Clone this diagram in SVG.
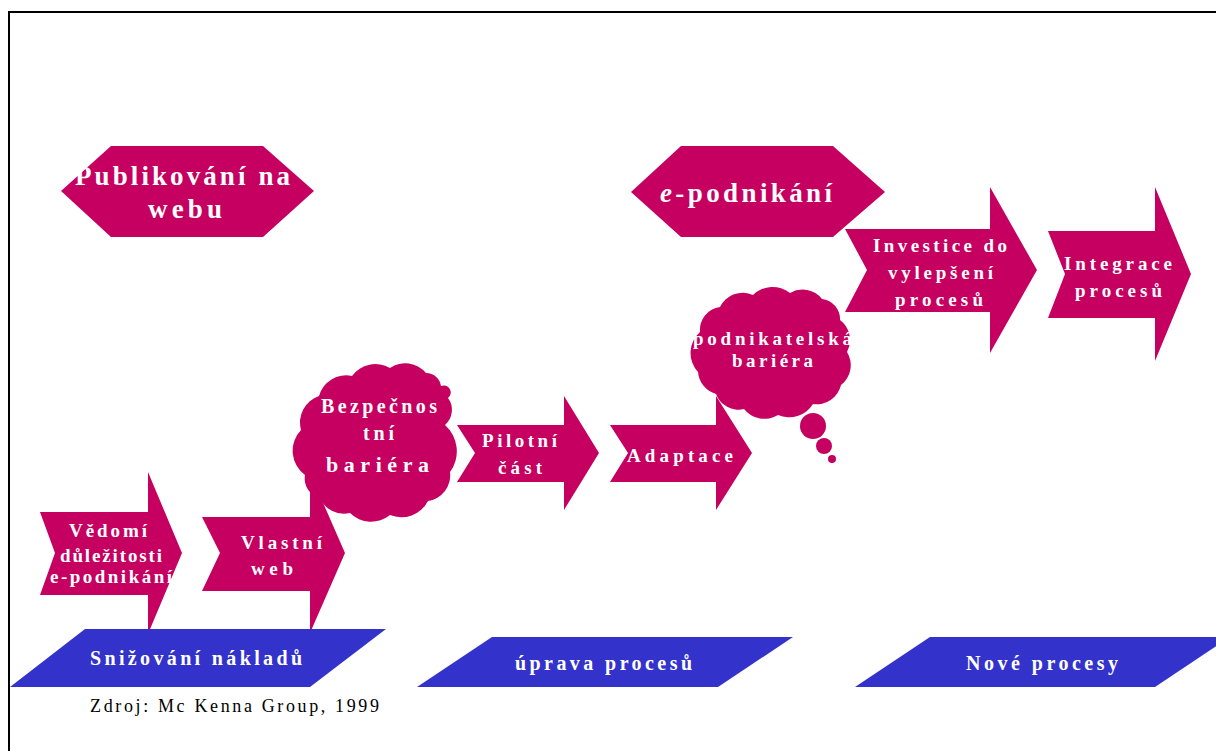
<svg xmlns="http://www.w3.org/2000/svg" width="1216" height="751" viewBox="0 0 1216 751">
<style>
.m{fill:#C50061}
.b{fill:#3333CC}
.t{fill:#ffffff;font-family:"Liberation Serif","Times New Roman",serif;font-weight:bold;text-anchor:middle}
.a{font-size:19px}
.h{font-size:27px}
.c{font-size:20px}
.p{font-size:20px}
.z{fill:#000000;font-family:"Liberation Serif","Times New Roman",serif;font-size:18px}
</style>
<rect x="0" y="0" width="1216" height="751" fill="#ffffff"/>
<g id="frame">
<path d="M9 751 V12 H1216" fill="none" stroke="#000" stroke-width="2"/>
</g>
<g id="connectors"></g>
<g id="hex-publikovani">
<polygon class="m" points="61,191 111,146 263,146 314,191 263,237 111,237"/>
<text class="t h" x="182.5" y="185" textLength="215">Publikování na</text>
<text class="t h" x="185" y="218" textLength="74">webu</text>
</g>
<g id="hex-epodnikani">
<polygon class="m" points="631,192 681,146 833,146 885,192 833,237 681,237"/>
<text class="t h" x="746" y="202" textLength="172"><tspan font-style="italic">e</tspan>-podnikání</text>
</g>
<g id="arrow-vedomi">
<polygon class="m" points="40,512 148,512 148,472 182,553 148,634 148,595 40,595 55,553"/>
<text class="t a" x="108" y="537" textLength="78">Vědomí</text>
<text class="t a" x="111" y="562" textLength="102">důležitosti</text>
<text class="t a" x="111" y="583" textLength="122">e-podnikání</text>
</g>
<g id="arrow-vlastni">
<polygon class="m" points="202,517 310,517 310,473 345,553 310,633 310,591 202,591 220,553"/>
<text class="t a" x="281.5" y="549" textLength="81">Vlastní</text>
<text class="t a" x="272" y="575" textLength="42">web</text>
</g>
<g id="arrow-pilotni">
<polygon class="m" points="457,425 564,425 564,396 599,453 564,510 564,482 457,482 475,453"/>
<text class="t a" x="519.5" y="447" textLength="75">Pilotní</text>
<text class="t a" x="520" y="474" textLength="44">část</text>
</g>
<g id="arrow-adaptace">
<polygon class="m" points="610,425 716,425 716,396 752,453 716,510 716,482 610,482 628,453"/>
<text class="t a" x="680" y="462" textLength="106">Adaptace</text>
</g>
<g id="arrow-investice">
<polygon class="m" points="845,229 990,229 990,187 1037,270 990,353 990,312 845,312 867,270"/>
<text class="t a" x="940" y="252" textLength="134">Investice do</text>
<text class="t a" x="940.5" y="279" textLength="105">vylepšení</text>
<text class="t a" x="939" y="306" textLength="88">procesů</text>
</g>
<g id="arrow-integrace">
<polygon class="m" points="1048,231 1155,231 1155,187 1191,274 1155,361 1155,318 1048,318 1065,274"/>
<text class="t a" x="1118" y="270" textLength="108">Integrace</text>
<text class="t a" x="1118.5" y="297" textLength="87">procesů</text>
</g>
<g id="cloud-bezpecnost">
<path class="m" d="M305,475 A30,30 0 0 1 301,430 A28,28 0 0 1 319,396 A28,28 0 0 1 352,376 A29,29 0 0 1 390,368 A27,27 0 0 1 426,373 A15,15 0 0 1 441,386 A7,7 0 0 1 448,398 A20,20 0 0 1 445,425 A35,35 0 0 1 450,472 A26,26 0 0 1 428,501 A30,30 0 0 1 390,515 A30,30 0 0 1 350,513 A26,26 0 0 1 320,498 A20,20 0 0 1 305,475 Z"/>
<text class="t c" x="379" y="413" textLength="116">Bezpečnos</text>
<text class="t c" x="378.5" y="440" textLength="31">tní</text>
<text class="t" style="font-size:22px" x="377.5" y="472" textLength="103">bariéra</text>
</g>
<g id="cloud-podnikatelska">
<path class="m" d="M698,372 A28,28 0 0 1 700,332 A23,23 0 0 1 720,307 A25,25 0 0 1 753,295 A28,28 0 0 1 790,293 A25,25 0 0 1 822,299 A20,20 0 0 1 840,320 A25,25 0 0 1 847,352 A25,25 0 0 1 841,385 A25,25 0 0 1 813,404 A28,28 0 0 1 778,415 A26,26 0 0 1 744,409 A24,24 0 0 1 716,394 A25,25 0 0 1 698,372 Z"/>
<circle class="m" cx="813" cy="426" r="13"/>
<circle class="m" cx="824" cy="446" r="8"/>
<circle class="m" cx="832" cy="459" r="4"/>
<text class="t a" x="772.5" y="345" textLength="159">podnikatelská</text>
<text class="t a" x="772.5" y="367" textLength="81">bariéra</text>
</g>
<g id="band-snizovani">
<polygon class="b" points="85,629 386,629 310,687 10,687"/>
<text class="t p" x="196" y="665" textLength="212">Snižování nákladů</text>
</g>
<g id="band-uprava">
<polygon class="b" points="492,637 793,637 718,687 417,687"/>
<text class="t p" x="603.5" y="670" textLength="177">úprava procesů</text>
</g>
<g id="band-nove">
<polygon class="b" points="930,637 1230,637 1155,687 855,687"/>
<text class="t p" x="1042" y="670" textLength="152">Nové procesy</text>
</g>
<g id="source">
<text class="z" x="90" y="712" textLength="289">Zdroj: Mc Kenna Group, 1999</text>
</g>
</svg>
